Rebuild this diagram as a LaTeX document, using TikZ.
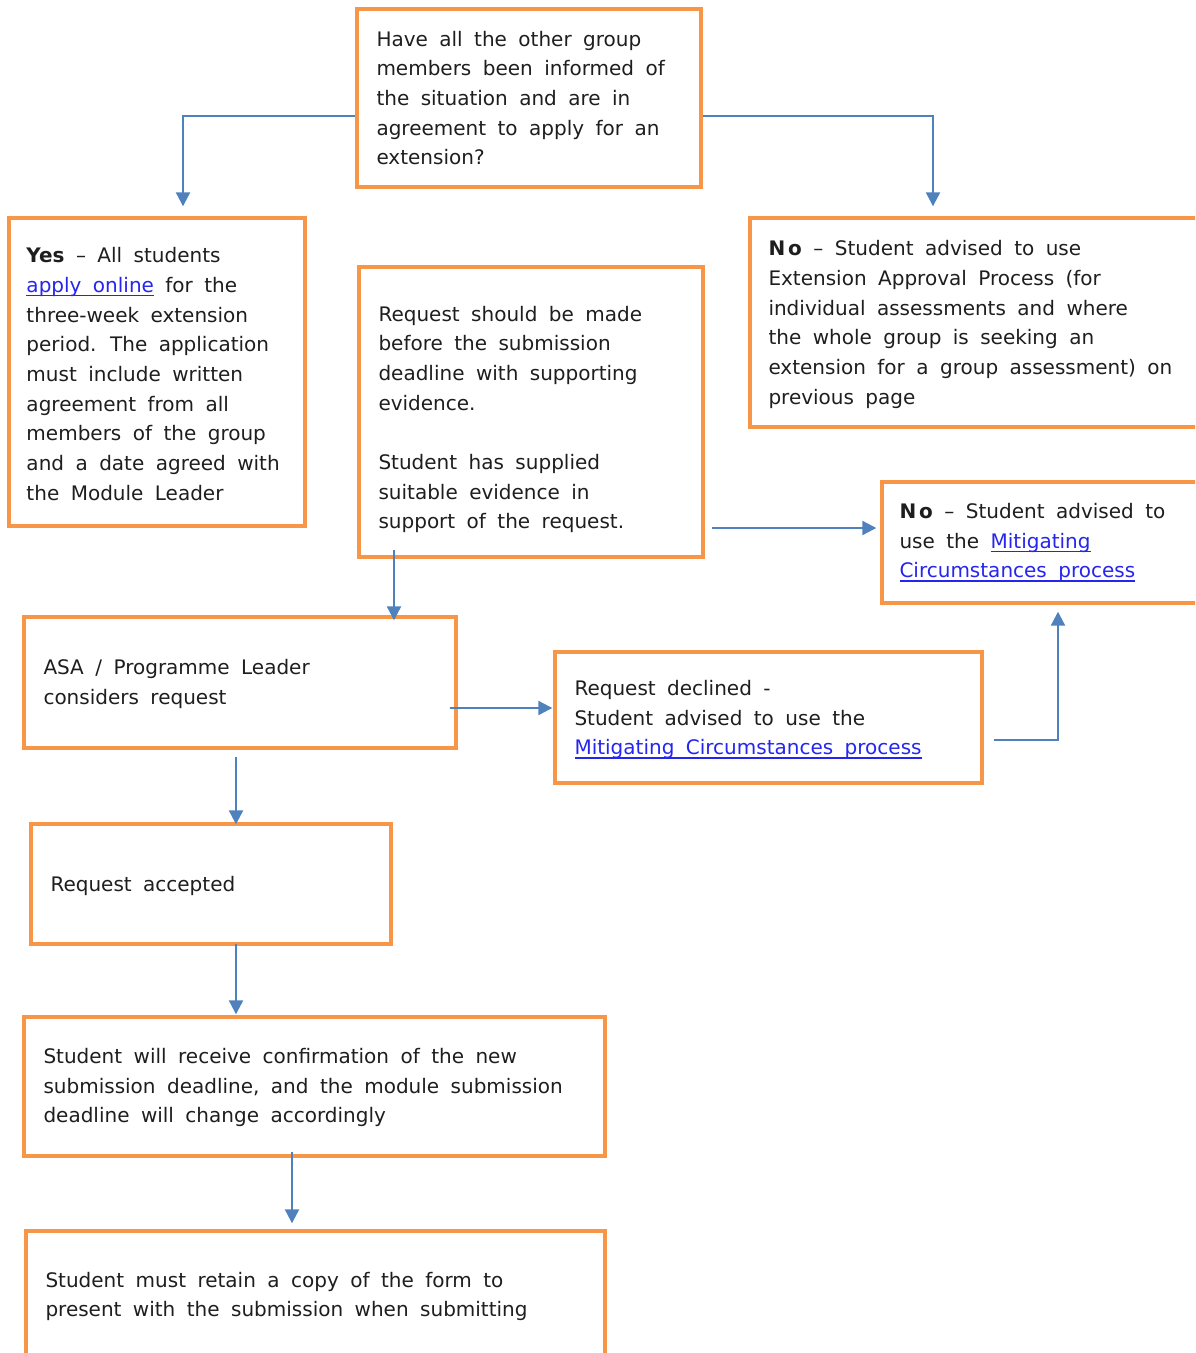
\documentclass[tikz,border=0pt]{standalone}
\usepackage{fontspec}
\setmainfont[WordSpace=1.8]{DejaVu Sans}
\usetikzlibrary{arrows.meta}
\definecolor{boxorange}{HTML}{F79646}
\definecolor{flowblue}{HTML}{4F81BD}
\definecolor{linkblue}{HTML}{2525EE}
\definecolor{inktext}{HTML}{1E1E1E}
\newsavebox{\lnkbox}
\newcommand{\lnk}[1]{{\color{linkblue}\sbox{\lnkbox}{#1}\rlap{\rule[-4pt]{\wd\lnkbox}{1.3pt}}\usebox{\lnkbox}}}
\begin{document}
\begin{tikzpicture}[x=1pt, y=-1pt,
    box/.style={draw=boxorange, line width=3.4pt, inner sep=0pt},
    txt/.style={anchor=west, align=left, inner sep=0pt, text=inktext,
      font=\fontsize{20}{29.7}\selectfont},
    flow/.style={draw=flowblue, line width=2.2pt, -{Triangle[length=14pt,width=14pt]}}]
    \useasboundingbox (0,0) rectangle (1195,1353);
    \clip (0,0) rectangle (1195,1353);

    % boxes
    \node[box, minimum width=344pt, minimum height=178pt] (qbox) at (529,98) {};
    \node[box, minimum width=296pt, minimum height=308pt] (yesbox) at (157,372) {};
    \node[box, minimum width=460pt, minimum height=209pt] (nobox) at (980,322.5) {};
    \node[box, minimum width=344pt, minimum height=290pt] (reqbox) at (531,412) {};
    \node[box, minimum width=330pt, minimum height=121pt] (mitbox) at (1047,542.5) {};
    \node[box, minimum width=432pt, minimum height=131pt] (asabox) at (240,682.5) {};
    \node[box, minimum width=427pt, minimum height=131pt] (declbox) at (768.5,717.5) {};
    \node[box, minimum width=360pt, minimum height=120pt] (accbox) at (211,884) {};
    \node[box, minimum width=581pt, minimum height=139pt] (confbox) at (314.5,1086.5) {};
    \node[box, minimum width=579pt, minimum height=131pt] (retbox) at (315.5,1296.5) {};

    % texts
    \node[txt] (qtxt) at ([xshift=21pt]qbox.west) {Have all the other group\\members been informed of\\the situation and are in\\agreement to apply for an\\extension?};
    \node[txt] (yestxt) at ([xshift=19pt,yshift=-2pt]yesbox.west) {\textbf{Yes} – All students\\\lnk{apply online} for the\\three-week extension\\period. The application\\must include written\\agreement from all\\members of the group\\and a date agreed with\\the Module Leader};
    \node[txt] (notxt) at ([xshift=20pt,yshift=-2pt]nobox.west) {\textbf{N\kern3pt o} – Student advised to use\\Extension Approval Process (for\\individual assessments and where\\the whole group is seeking an\\extension for a group assessment) on\\previous page};
    \node[txt] (reqtxt) at ([xshift=21pt,yshift=-7.5pt]reqbox.west) {Request should be made\\before the submission\\deadline with supporting\\evidence.\\\mbox{}\\Student has supplied\\suitable evidence in\\support of the request.};
    \node[txt] (mittxt) at ([xshift=19pt]mitbox.west) {\textbf{N\kern3pt o} – Student advised to\\use the \lnk{Mitigating}\\\lnk{Circumstances process}};
    \node[txt] (asatxt) at ([xshift=21pt,yshift=-1.5pt]asabox.west) {ASA / Programme Leader\\considers request};
    \node[txt] (decltxt) at ([xshift=21pt,yshift=-2pt]declbox.west) {Request declined -\\Student advised to use the\\\lnk{Mitigating Circumstances process}};
    \node[txt] (acctxt) at ([xshift=21pt,yshift=-2pt]accbox.west) {Request accepted};
    \node[txt] (conftxt) at ([xshift=21pt,yshift=-1pt]confbox.west) {Student will receive confirmation of the new\\submission deadline, and the module submission\\deadline will change accordingly};
    \node[txt] (rettxt) at ([xshift=21pt]retbox.west) {Student must retain a copy of the form to\\present with the submission when submitting};

    % connectors
    \draw[flow] ([yshift=-18pt]qbox.west) -| ([xshift=26pt,yshift=10pt]yesbox.north);
    \draw[flow] ([yshift=-18pt]qbox.east) -| ([xshift=-47pt,yshift=10pt]nobox.north);
    \draw[flow] ([xshift=7pt,yshift=-116pt]reqbox.east) -- ([xshift=-4pt,yshift=14.5pt]mitbox.west);
    \draw[flow] ([xshift=-137pt,yshift=9pt]reqbox.south) -- ([xshift=154pt,yshift=-5pt]asabox.north);
    \draw[flow] ([xshift=-8pt,yshift=-25.5pt]asabox.east) -- ([xshift=-1pt,yshift=9.5pt]declbox.west);
    \draw[flow] ([xshift=10pt,yshift=-22.5pt]declbox.east) -| ([xshift=11pt,yshift=-7pt]mitbox.south);
    \draw[flow] ([xshift=-4pt,yshift=-7pt]asabox.south) -- ([xshift=25pt,yshift=-2pt]accbox.north);
    \draw[flow] ([xshift=25pt,yshift=2pt]accbox.south) -- ([xshift=-78.5pt,yshift=1pt]confbox.north);
    \draw[flow] ([xshift=-22.5pt,yshift=6pt]confbox.south) -- ([xshift=-23.5pt,yshift=6pt]retbox.north);
\end{tikzpicture}
\end{document}
